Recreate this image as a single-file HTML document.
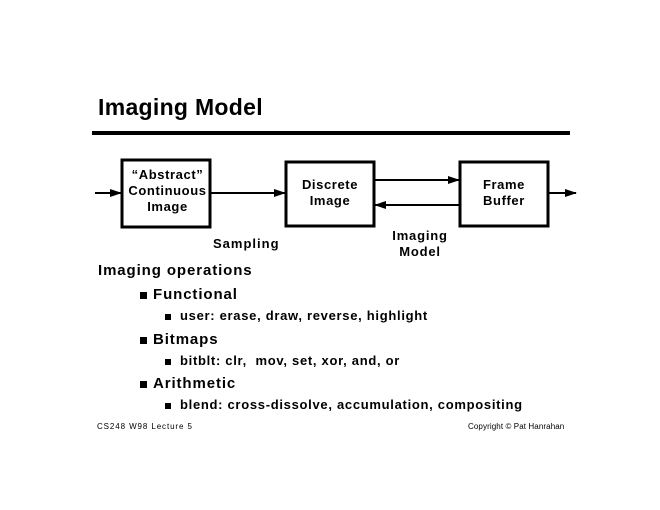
<!DOCTYPE html>
<html><head><style>
body{margin:0;background:#fff;}
.p{position:relative;width:660px;height:510px;font-family:"Liberation Sans",sans-serif;color:#000;overflow:hidden}
.t{position:absolute;white-space:nowrap;font-weight:bold}
.sq{position:absolute;width:7px;height:7px;background:#000}
</style></head><body><div class="p">
<div class="t" style="left:98px;top:94px;font-size:23px;letter-spacing:0.3px">Imaging Model</div>
<div style="position:absolute;left:92px;top:131px;width:478px;height:4px;background:#000"></div>
<svg width="660" height="510" style="position:absolute;left:0;top:0">
<defs><marker id="a" markerWidth="12" markerHeight="8" refX="11" refY="4" orient="auto" markerUnits="userSpaceOnUse"><path d="M0,0 L12,4 L0,8 z" fill="#000"/></marker></defs>
<g fill="none" stroke="#000" stroke-width="2">
<rect x="122" y="160" width="88" height="67" stroke-width="3"/>
<rect x="286" y="162" width="88" height="64" stroke-width="3"/>
<rect x="460" y="162" width="88" height="64" stroke-width="3"/>
<line x1="95" y1="193" x2="121" y2="193" marker-end="url(#a)"/>
<line x1="211" y1="193" x2="285" y2="193" marker-end="url(#a)"/>
<line x1="375" y1="180" x2="459" y2="180" marker-end="url(#a)"/>
<line x1="459" y1="205" x2="375" y2="205" marker-end="url(#a)"/>
<line x1="549" y1="193" x2="576" y2="193" marker-end="url(#a)"/>
</g></svg>
<div class="t" style="left:122px;width:91px;top:167px;font-size:13px;text-align:center;line-height:16px;letter-spacing:0.6px">“Abstract”<br>Continuous<br>Image</div>
<div class="t" style="left:286px;width:88px;top:177px;font-size:13px;text-align:center;line-height:16px;letter-spacing:0.6px">Discrete<br>Image</div>
<div class="t" style="left:460px;width:88px;top:177px;font-size:13px;text-align:center;line-height:16px;letter-spacing:0.6px">Frame<br>Buffer</div>
<div class="t" style="left:213px;top:236px;font-size:13px;letter-spacing:1px">Sampling</div>
<div class="t" style="left:380px;width:80px;top:228px;font-size:13px;text-align:center;line-height:16px;letter-spacing:0.8px">Imaging<br>Model</div>
<div class="t" style="left:98px;top:262px;font-size:15px;letter-spacing:0.9px">Imaging operations</div>
<div class="sq" style="left:140px;top:292px"></div><div class="t" style="left:153px;top:286px;font-size:15px;letter-spacing:0.9px">Functional</div>
<div class="sq" style="left:165px;top:314px;width:6px;height:6px"></div><div class="t" style="left:180px;top:308px;font-size:13px;letter-spacing:0.7px">user: erase, draw, reverse, highlight</div>
<div class="sq" style="left:140px;top:337px"></div><div class="t" style="left:153px;top:331px;font-size:15px;letter-spacing:0.9px">Bitmaps</div>
<div class="sq" style="left:165px;top:359px;width:6px;height:6px"></div><div class="t" style="left:180px;top:353px;font-size:13px;letter-spacing:0.7px">bitblt: clr,&nbsp; mov, set, xor, and, or</div>
<div class="sq" style="left:140px;top:381px"></div><div class="t" style="left:153px;top:375px;font-size:15px;letter-spacing:0.9px">Arithmetic</div>
<div class="sq" style="left:165px;top:403px;width:6px;height:6px"></div><div class="t" style="left:180px;top:397px;font-size:13px;letter-spacing:0.7px">blend: cross-dissolve, accumulation, compositing</div>
<div style="position:absolute;left:97px;top:422px;font-size:8px;letter-spacing:0.9px;white-space:nowrap">CS248 W98 Lecture 5</div>
<div style="position:absolute;left:468px;top:422px;font-size:8px;letter-spacing:0.1px;white-space:nowrap">Copyright © Pat Hanrahan</div>
</div></body></html>
